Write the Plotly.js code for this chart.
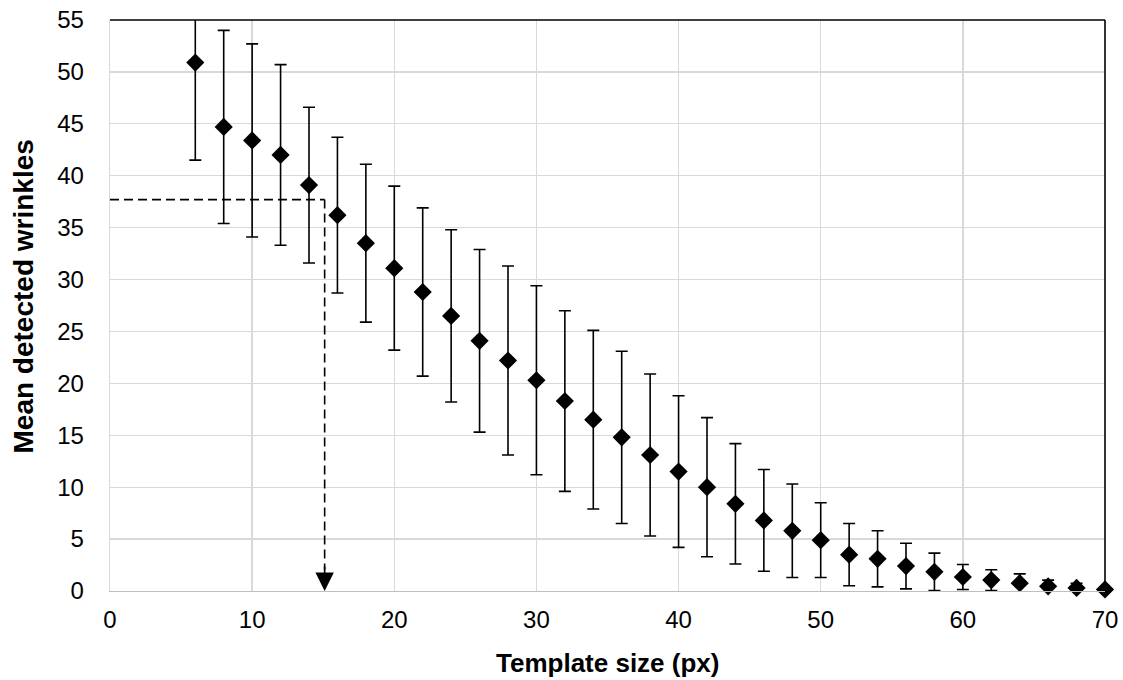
<!DOCTYPE html>
<html>
<head>
<meta charset="utf-8">
<script src="https://cdn.plot.ly/plotly-3.0.1.min.js"></script>
<style>html,body{margin:0;padding:0;background:#fff;}#chart{width:1123px;height:680px;}</style>
</head>
<body>
<div id="chart"></div>
<script>
// Template size (px)
const templateSize = [6,8,10,12,14,16,18,20,22,24,26,28,30,32,34,36,38,40,42,44,46,48,50,52,54,56,58,60,62,64,66,68,70];
// Mean detected wrinkles
const meanWrinkles = [50.9,44.7,43.4,42.0,39.1,36.2,33.5,31.1,28.8,26.5,24.1,22.2,20.3,18.3,16.5,14.8,13.1,11.5,10.0,8.4,6.8,5.8,4.9,3.5,3.1,2.4,1.85,1.35,1.05,0.75,0.45,0.3,0.15];
// Standard deviation (error bars)
const stdDev = [9.4,9.3,9.3,8.7,7.5,7.5,7.6,7.9,8.1,8.3,8.8,9.1,9.1,8.7,8.6,8.3,7.8,7.3,6.7,5.8,4.9,4.5,3.6,3.0,2.7,2.2,1.8,1.2,1.0,0.9,0.6,0.45,0];
// Selected template size and corresponding mean
const selectedSize = 15.1;
const selectedMean = 37.7;

const xTicks = [0,10,20,30,40,50,60,70];
const yTicks = [0,5,10,15,20,25,30,35,40,45,50,55];
const xTitle = 'Template size (px)';
const yTitle = 'Mean detected wrinkles';

const errTrace = {
  x: templateSize, y: meanWrinkles, type: 'scatter', mode: 'markers',
  marker: {size: 1, color: 'rgba(0,0,0,0)'},
  error_y: {type: 'data', array: stdDev, visible: true, color: '#000', thickness: 1.6, width: 6},
  cliponaxis: true, hoverinfo: 'skip', showlegend: false
};
const markerTrace = {
  x: templateSize, y: meanWrinkles, type: 'scatter', mode: 'markers',
  marker: {symbol: 'diamond', size: 14, color: '#000'},
  cliponaxis: false, showlegend: false
};

const fam = 'Liberation Sans, Arial, sans-serif';

const layout = {
  width: 1123, height: 680,
  margin: {l: 110, r: 18, t: 20, b: 89},
  paper_bgcolor: '#fff', plot_bgcolor: '#fff',
  font: {family: fam, color: '#000'},
  showlegend: false,
  xaxis: {
    range: [0, 70], tickvals: xTicks, ticktext: xTicks.map(String),
    showgrid: true, gridcolor: '#d9d9d9', gridwidth: 1.3,
    zeroline: false, showline: true, linecolor: '#bfbfbf', linewidth: 1.3,
    ticks: '', ticklabelstandoff: 7, tickfont: {family: fam, size: 24, color: '#000'}
  },
  yaxis: {
    range: [0, 55], tickvals: yTicks, ticktext: yTicks.map(String),
    showgrid: true, gridcolor: '#d9d9d9', gridwidth: 1.3,
    zeroline: false, showline: true, linecolor: '#d9d9d9', linewidth: 1.3,
    ticks: '', ticklabelstandoff: 20, tickfont: {family: fam, size: 24, color: '#000'}
  },
  shapes: [
    {type: 'line', xref: 'paper', yref: 'paper', x0: 0, x1: 1, y0: 1, y1: 1, line: {color: '#000', width: 1.6}},
    {type: 'line', xref: 'paper', yref: 'paper', x0: 1, x1: 1, y0: 0, y1: 1, line: {color: '#000', width: 1.6}},
    {type: 'line', xref: 'x', yref: 'y', x0: 0, x1: selectedSize, y0: selectedMean, y1: selectedMean, line: {color: '#000', width: 1.6, dash: '9px,5px'}},
    {type: 'line', xref: 'x', yref: 'y', x0: selectedSize, x1: selectedSize, y0: selectedMean, y1: 2, line: {color: '#000', width: 1.6, dash: '9px,5px'}}
  ],
  annotations: [
    {x: selectedSize, y: 0, xref: 'x', yref: 'y', ax: 0, ay: -26, axref: 'pixel', ayref: 'pixel',
     text: '', showarrow: true, arrowhead: 2, arrowsize: 2.3, arrowwidth: 1.6, arrowcolor: '#000', standoff: 0},
    {x: 0.5, y: 0, xref: 'paper', yref: 'paper', xanchor: 'center', yanchor: 'middle', yshift: -72,
     text: '<b>' + xTitle + '</b>', showarrow: false, font: {family: fam, size: 26, color: '#000'}},
    {x: 0, y: 0.5, xref: 'paper', yref: 'paper', xanchor: 'center', yanchor: 'middle', xshift: -87, yshift: 9,
     textangle: -90, text: '<b>' + yTitle + '</b>', showarrow: false, font: {family: fam, size: 28, color: '#000'}}
  ]
};

Plotly.newPlot('chart', [errTrace, markerTrace], layout, {displayModeBar: false, staticPlot: true});
</script>
</body>
</html>
